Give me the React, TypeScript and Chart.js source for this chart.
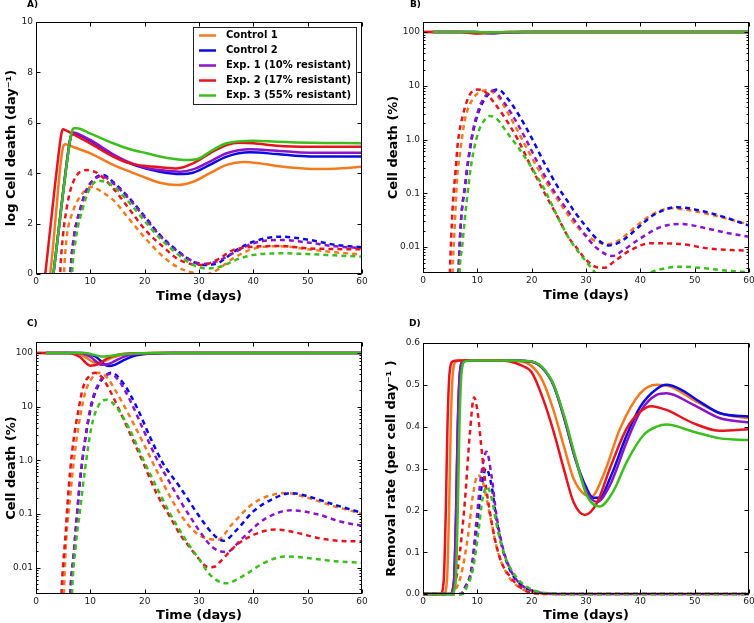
import React, { useEffect, useRef } from 'react';
import { Chart, registerables } from 'chart.js';

Chart.register(...registerables);
Chart.defaults.font.family = 'DejaVu Sans';

type Pt = [number, number];

const SERIES_LABELS = ['Control 1', 'Control 2', 'Exp. 1 (10% resistant)', 'Exp. 2 (17% resistant)', 'Exp. 3 (55% resistant)'];
const SERIES_COLORS = ['#F47A20', '#0A0AE6', '#8C14C8', '#E6141E', '#3CBE1E'];

const TIME_TICKS = [0, 10, 20, 30, 40, 50, 60];
const A_Y_TICKS = [0, 2, 4, 6, 8, 10];
const A_Y_LABELS = ['0', '2', '4', '6', '8', '10'];
const D_Y_TICKS = [0, 0.1, 0.2, 0.3, 0.4, 0.5, 0.6];
const D_Y_LABELS = ['0.0', '0.1', '0.2', '0.3', '0.4', '0.5', '0.6'];
const LOG_TICKS = [0.01, 0.1, 1, 10, 100];
const LOG_TICK_LABELS = ['0.01', '0.1', '1.0', '10', '100'];

// ---------- Panel A: log cell death (day^-1) ----------
const A_SOLID_C1: Pt[] = [[0.5,-2.2],[2.6,0],[4.6,4.5],[5.0,5.05],[5.4,5.15],[6,5.12],[7,5.03],[10,4.79],[14.2,4.33],[17.3,4.06],[20.4,3.8],[22.8,3.62],[25.9,3.53],[28.9,3.66],[32,4.0],[35.1,4.33],[38.2,4.44],[41.2,4.39],[44,4.3],[47.4,4.22],[51.7,4.17],[55,4.18],[60,4.26]];
const A_SOLID_C2: Pt[] = [[2,-2],[3.2,0],[6.0,4.95],[6.4,5.45],[6.8,5.6],[7.3,5.57],[9.9,5.3],[14.2,4.72],[17.3,4.39],[20.4,4.17],[22.8,4.06],[26.5,3.97],[28.9,4.02],[32,4.33],[35.1,4.66],[39.4,4.83],[44.3,4.76],[50.4,4.66],[60,4.66]];
const A_SOLID_E1: Pt[] = [[2,-2],[3.2,0],[6.0,4.95],[6.4,5.45],[6.8,5.62],[7.3,5.6],[9.9,5.33],[14.2,4.75],[17.3,4.42],[20.4,4.21],[22.8,4.13],[26.5,4.06],[28.9,4.15],[32,4.46],[35.1,4.79],[39.4,4.95],[44.3,4.89],[50.4,4.81],[60,4.81]];
const A_SOLID_E2: Pt[] = [[0.5,-2.2],[1.7,0],[4.3,5.0],[4.7,5.6],[5.0,5.74],[5.5,5.7],[6.9,5.54],[9.9,5.19],[14.2,4.66],[17.3,4.39],[20.4,4.28],[22.8,4.24],[25.9,4.19],[28.9,4.39],[32,4.79],[35.1,5.12],[37.4,5.21],[40,5.19],[44.3,5.09],[50.4,5.05],[55,5.05],[60,5.05]];
const A_SOLID_E3: Pt[] = [[2,-2],[3.2,0],[6.2,5.2],[6.6,5.65],[7.0,5.78],[7.5,5.78],[9.9,5.58],[14.2,5.19],[17.3,4.95],[20.4,4.79],[22.8,4.66],[25.5,4.56],[27.7,4.52],[29.6,4.55],[32,4.85],[35.1,5.19],[40,5.29],[44.3,5.25],[50.4,5.21],[60,5.19]];

const A_DASH_C1: Pt[] = [[5.0,-1],[5.15,0],[5.6,1.35],[6.9,2.54],[8.1,3.07],[9.9,3.44],[10.6,3.46],[11.2,3.38],[14.2,2.94],[17.3,2.14],[20.4,1.35],[23.4,0.69],[25.9,0.29],[28.9,0.05],[30.8,-0.02],[31.5,-0.01],[33.3,0.16],[36.3,0.62],[40,1.0],[45,1.1],[50,0.98],[55,0.86],[60,0.78]];
const A_DASH_C2: Pt[] = [[6.2,-1],[6.35,0],[6.9,1.35],[8.1,2.54],[9.3,3.33],[10.6,3.75],[12.3,3.93],[14.2,3.65],[17.3,2.98],[20.4,2.18],[22.8,1.55],[25.9,0.95],[28.9,0.49],[30.8,0.36],[33.3,0.42],[36.9,0.95],[40,1.28],[44.9,1.48],[50.4,1.35],[55.3,1.15],[60,1.06]];
const A_DASH_E1: Pt[] = [[6.2,-1],[6.35,0],[6.9,1.35],[8.1,2.54],[9.3,3.33],[10.6,3.73],[12.1,3.89],[14.2,3.6],[17.3,2.94],[20.4,2.14],[22.8,1.52],[25.9,0.92],[28.9,0.5],[30.8,0.4],[33.3,0.5],[36.9,0.9],[40,1.22],[45,1.35],[50,1.25],[55,1.1],[60,1.03]];
const A_DASH_E2: Pt[] = [[4.3,-1],[4.45,0],[5,1.6],[5.6,2.55],[6.3,3.3],[7.5,3.92],[8.7,4.1],[9.3,4.13],[10,4.1],[11.2,4.02],[14.2,3.4],[17.3,2.54],[20.4,1.68],[23.4,1.08],[25.9,0.62],[28.9,0.38],[30.8,0.36],[33.3,0.56],[36.3,0.95],[40,1.08],[45,1.11],[50,1.02],[55,0.99],[60,0.98]];
const A_DASH_E3: Pt[] = [[6.5,-1],[6.65,0],[7.3,1.35],[8.7,2.67],[9.9,3.4],[11.5,3.7],[12.3,3.68],[14.2,3.49],[17.3,2.8],[20.4,2.0],[22.8,1.42],[25.9,0.82],[28.9,0.36],[31.4,0.22],[33.9,0.29],[37.5,0.62],[41.2,0.79],[45.5,0.82],[50,0.79],[55,0.74],[60,0.69]];

// ---------- Panel B: cell death (%) ----------
const B_SOLID_C1: Pt[] = [[0,100],[8,100],[9.5,97],[10.5,95.5],[12,97],[14,99],[17,100],[60,100]];
const B_SOLID_C2: Pt[] = [[1.8,100],[10,100],[11.5,97],[13,95],[14.5,97],[16.5,99.5],[20,100],[60,100]];
const B_SOLID_E1: Pt[] = [[1.8,100],[9.5,100],[11,97],[12,95.5],[13.5,97],[15.5,99.5],[19,100],[60,100]];
const B_SOLID_E2: Pt[] = [[0,100],[7,100],[8.5,96],[9.5,94.5],[11,96],[13,99],[16,100],[60,100]];
const B_SOLID_E3: Pt[] = [[1.8,100],[10,100],[11,99],[12,98.5],[13.5,99],[16,100],[60,100]];

const B_DASH_C1: Pt[] = [[5.3,0.001],[5.45,0.0035],[5.8,0.02],[6.3,0.2],[6.8,0.55],[7.7,2.3],[9.2,5.75],[10.7,7.9],[11.8,8.3],[13.8,6.3],[15.6,3.16],[17.5,1.41],[19.3,0.63],[21.5,0.25],[24,0.1],[26,0.05],[28,0.0263],[30,0.0166],[32,0.0126],[34,0.0112],[36,0.0132],[38,0.019],[40,0.0282],[42.5,0.0417],[45.5,0.0525],[49.8,0.0468],[54.7,0.0363],[60,0.0263]];
const B_DASH_C2: Pt[] = [[6.4,0.001],[6.55,0.0035],[7,0.0316],[7.7,0.126],[8.3,0.38],[9.2,1.35],[10.4,3.63],[12,6.92],[13.8,8.5],[15.6,5.75],[17.5,3.02],[19.9,1.12],[22.4,0.355],[24.8,0.132],[26.7,0.069],[28,0.0437],[30,0.024],[32,0.0141],[34.2,0.0107],[36,0.012],[38,0.0166],[40,0.0251],[42.5,0.0398],[46.7,0.055],[50,0.05],[54.7,0.038],[60,0.0251]];
const B_DASH_E1: Pt[] = [[6.4,0.001],[6.55,0.0035],[7,0.0316],[7.7,0.132],[8.3,0.407],[9.2,1.48],[10.4,4.07],[12,7.41],[12.9,8.13],[14.4,5.75],[16.3,3.02],[18.7,1.12],[21.2,0.355],[23.6,0.132],[26.1,0.0562],[28,0.0302],[30,0.0158],[32,0.0095],[34.8,0.0068],[37,0.0089],[39.4,0.0132],[43.7,0.0234],[47.4,0.0269],[52,0.0224],[56,0.0182],[60,0.0155]];
const B_DASH_E2: Pt[] = [[4.8,0.001],[4.95,0.0035],[5.2,0.0155],[5.5,0.065],[6,0.27],[6.4,0.85],[7.4,3.0],[8.6,6.8],[10,8.5],[11.3,7.9],[13.2,4.7],[15,2.6],[17.5,0.98],[19.9,0.31],[22.4,0.1],[24.8,0.036],[26.7,0.0155],[28,0.0105],[30,0.0058],[32,0.0042],[33.5,0.0041],[35,0.0052],[38,0.0085],[41.8,0.0117],[46.7,0.0115],[52.9,0.0093],[60,0.0085]];
const B_DASH_E3: Pt[] = [[6.6,0.001],[6.75,0.0035],[7.2,0.01],[8,0.065],[8.9,0.355],[10.1,1.29],[11.3,2.29],[12.3,2.75],[13.8,2.29],[15.6,1.29],[17.5,0.72],[19.9,0.31],[22.4,0.115],[24.8,0.036],[26.7,0.0155],[28,0.0098],[30,0.0054],[31.4,0.0036],[33,0.0024],[36,0.0015],[39,0.0019],[41.8,0.0033],[44,0.0039],[47.4,0.0043],[52,0.004],[56,0.0036],[60,0.0034]];

// ---------- Panel C: cell death (%) ----------
const C_SOLID_C1: Pt[] = [[0,100],[7,100],[9,85],[11,65],[12.5,70],[14,82],[16,93],[19,99],[23,100],[60,100]];
const C_SOLID_C2: Pt[] = [[1.8,100],[8.5,100],[11,85],[13.3,57],[14.5,60],[16,72],[18,88],[21,97],[25,100],[60,100]];
const C_SOLID_E1: Pt[] = [[1.8,100],[8,100],[10,85],[12.1,60],[13.5,63],[15,75],[17,90],[20,98],[24,100],[60,100]];
const C_SOLID_E2: Pt[] = [[0,100],[6,100],[8,85],[10,58],[11.5,62],[13,78],[15,92],[18,99],[22,100],[60,100]];
const C_SOLID_E3: Pt[] = [[1.8,100],[9,100],[10.5,93],[12.1,86],[13.5,88],[15.5,94],[18,98],[22,100],[60,100]];

const C_DASH_C1: Pt[] = [[5.0,0.001],[5.15,0.0035],[5.6,0.037],[6.3,0.21],[6.9,0.87],[7.8,4.17],[9,17.4],[10.2,33],[11.5,42.7],[13,35.5],[14.8,18.6],[17.3,6.46],[19.8,2.04],[22.2,0.646],[24.7,0.209],[26.5,0.102],[28.5,0.055],[30.5,0.038],[33.5,0.0331],[36,0.063],[40,0.158],[44,0.234],[46,0.245],[50,0.2],[55,0.138],[60,0.102]];
const C_DASH_C2: Pt[] = [[6.2,0.001],[6.35,0.0035],[6.9,0.0158],[7.5,0.085],[8.1,0.4],[9,2.2],[10.2,10.5],[11.5,25],[12.7,37],[13.9,42.7],[16.1,26.9],[18.5,10],[21,2.69],[23.4,0.87],[26.5,0.316],[28.5,0.155],[30.5,0.078],[32.5,0.043],[34.5,0.0316],[37,0.0513],[40,0.112],[44,0.2],[47,0.245],[50,0.214],[55,0.148],[60,0.105]];
const C_DASH_E1: Pt[] = [[6.2,0.001],[6.35,0.0035],[6.9,0.0158],[7.5,0.087],[8.1,0.427],[9,2.34],[10.2,11.5],[11.5,26.9],[12.7,38],[13.6,40.7],[15.2,30.9],[17.3,13.2],[19.8,3.63],[22.2,1.07],[24.7,0.372],[26.5,0.178],[28.5,0.085],[30.5,0.042],[32.5,0.024],[35,0.0195],[38,0.0355],[42,0.0794],[47,0.117],[52,0.0977],[56,0.0724],[60,0.0603]];
const C_DASH_E2: Pt[] = [[4.55,0.001],[4.7,0.0035],[5,0.0117],[5.4,0.037],[5.8,0.155],[6.3,0.646],[6.9,2.34],[7.8,8.5],[8.7,23.4],[9.9,38],[10.9,42.7],[12.1,35.5],[13.6,20],[15.5,7.94],[17.3,3.16],[19.8,0.87],[22.2,0.24],[24.7,0.087],[26.5,0.0417],[28,0.0263],[30,0.0145],[31.7,0.0102],[33,0.0105],[34,0.0132],[37,0.0269],[40,0.0407],[44,0.0513],[48,0.0447],[52,0.0355],[56,0.0316],[60,0.0309]];
const C_DASH_E3: Pt[] = [[6.5,0.001],[6.65,0.0035],[7.3,0.0245],[8.1,0.117],[9,0.646],[10.2,4.17],[11.5,10.5],[13,13.5],[14.8,9.77],[17.3,3.63],[19.8,1.0],[22.2,0.316],[24.7,0.1],[26.5,0.049],[28,0.028],[30,0.0145],[32,0.0074],[35,0.0051],[38,0.0069],[42,0.0123],[46,0.0162],[50,0.0151],[55,0.0132],[60,0.0123]];

// ---------- Panel D: removal rate ----------
const D_SOLID_C1: Pt[] = [[0,0],[3.8,0],[4.4,0.03],[4.8,0.2],[5.1,0.4],[5.5,0.53],[6.1,0.556],[7,0.558],[14,0.558],[18,0.556],[20,0.545],[22,0.51],[24,0.44],[26,0.35],[27.7,0.276],[29.8,0.237],[31,0.233],[33.2,0.284],[36.3,0.396],[40,0.48],[43,0.5],[45.5,0.496],[49.8,0.464],[54.7,0.432],[60,0.42]];
const D_SOLID_C2: Pt[] = [[0,0],[5,0],[5.7,0.03],[6.1,0.2],[6.4,0.4],[6.8,0.53],[7.4,0.556],[8.5,0.558],[16,0.558],[20,0.555],[22,0.54],[24,0.5],[26,0.42],[28,0.325],[30.1,0.253],[31.3,0.23],[32.5,0.23],[34.4,0.276],[37.5,0.38],[40,0.448],[43,0.49],[44.8,0.5],[47.3,0.49],[50.9,0.46],[54.7,0.432],[60,0.424]];
const D_SOLID_E1: Pt[] = [[0,0],[5,0],[5.7,0.03],[6.1,0.2],[6.4,0.4],[6.8,0.53],[7.4,0.556],[8.5,0.558],[16,0.558],[20,0.555],[22,0.54],[24,0.5],[26,0.42],[28,0.325],[30.1,0.245],[32,0.22],[34.4,0.26],[37.5,0.364],[40,0.436],[43,0.476],[44.8,0.48],[49.8,0.452],[54.7,0.42],[60,0.41]];
const D_SOLID_E2: Pt[] = [[0,0],[3.2,0],[3.8,0.03],[4.2,0.2],[4.5,0.4],[4.9,0.53],[5.5,0.556],[6.5,0.558],[14,0.558],[16,0.556],[18,0.547],[20,0.53],[22,0.47],[24,0.39],[26,0.295],[27.7,0.22],[29.8,0.189],[32,0.217],[34.4,0.3],[37.5,0.396],[40,0.436],[42,0.449],[44.8,0.44],[49.8,0.408],[54.7,0.39],[60,0.394]];
const D_SOLID_E3: Pt[] = [[0,0],[5.3,0],[6,0.03],[6.4,0.2],[6.7,0.4],[7.1,0.53],[7.7,0.556],[9,0.558],[16,0.558],[20,0.556],[22,0.542],[24,0.502],[26,0.425],[28,0.33],[30.1,0.237],[32.5,0.209],[35,0.245],[37.5,0.316],[40.6,0.38],[43,0.4],[44.8,0.405],[49.8,0.388],[54.7,0.372],[60,0.368]];

const D_DASH_C1: Pt[] = [[0,0],[5.6,0],[6,0.01],[7,0.045],[8.3,0.14],[9.2,0.237],[10.1,0.284],[11,0.268],[12.3,0.19],[13.8,0.1],[15.6,0.045],[17.5,0.018],[19.3,0.006],[21,0.002],[24,0],[60,0]];
const D_DASH_C2: Pt[] = [[0,0],[7,0],[7.7,0.015],[8.9,0.055],[9.8,0.15],[10.7,0.25],[11.6,0.3],[12.6,0.26],[13.5,0.18],[14.7,0.105],[16.3,0.05],[18.1,0.021],[20.6,0.006],[23,0.001],[26,0],[60,0]];
const D_DASH_E1: Pt[] = [[0,0],[7,0],[7.7,0.015],[8.9,0.06],[9.8,0.17],[10.7,0.284],[11.7,0.34],[12.6,0.284],[13.5,0.19],[14.7,0.11],[16.3,0.053],[18.1,0.022],[20.6,0.006],[23,0.001],[26,0],[60,0]];
const D_DASH_E2: Pt[] = [[0,0],[5.1,0],[5.6,0.01],[6.4,0.06],[7.7,0.22],[8.6,0.38],[9.4,0.47],[10.1,0.43],[10.7,0.356],[11.3,0.284],[12.3,0.197],[13.2,0.133],[14.4,0.077],[16.3,0.037],[18.1,0.014],[19.3,0.005],[21,0.001],[24,0],[60,0]];
const D_DASH_E3: Pt[] = [[0,0],[7.3,0],[8,0.015],[9.2,0.06],[10.1,0.14],[11,0.23],[11.8,0.257],[12.6,0.23],[13.8,0.15],[15,0.093],[16.9,0.045],[19.3,0.016],[21.8,0.004],[24,0.001],[26,0],[60,0]];

// ---------- layout / panel definitions ----------
type PanelCfg = {
  letter: string;
  letterPos: [number, number];
  box: [number, number, number, number];
  padTop: number;
  padRight: number;
  yAxisW: number;
  xAxisH: number;
  yTitlePad: number;
  xTitlePad: number;
  log: boolean;
  yMin: number;
  yMax: number;
  yTicks: number[];
  yLabels: string[];
  yTitle: string;
  solid: Pt[][];
  dashed: Pt[][];
  legend: boolean;
  clipBottom: number;
};

const PANELS: PanelCfg[] = [
  {
    letter: 'A)', letterPos: [27, 5], box: [0, 0, 377, 311], padTop: 22, padRight: 15, yAxisW: 36, xAxisH: 37,
    yTitlePad: 4, xTitlePad: 7, log: false, yMin: 0, yMax: 10, yTicks: A_Y_TICKS, yLabels: A_Y_LABELS,
    yTitle: 'log Cell death (day\u207B\u00B9)',
    solid: [A_SOLID_C1, A_SOLID_C2, A_SOLID_E1, A_SOLID_E2, A_SOLID_E3],
    dashed: [A_DASH_C1, A_DASH_C2, A_DASH_E1, A_DASH_E2, A_DASH_E3], legend: true, clipBottom: 0,
  },
  {
    letter: 'B)', letterPos: [33, 5], box: [377, 0, 377, 311], padTop: 22, padRight: 5, yAxisW: 46, xAxisH: 38,
    yTitlePad: 9, xTitlePad: 8, log: true, yMin: 0.00328, yMax: 154, yTicks: LOG_TICKS, yLabels: LOG_TICK_LABELS,
    yTitle: 'Cell death (%)',
    solid: [B_SOLID_C1, B_SOLID_C2, B_SOLID_E1, B_SOLID_E2, B_SOLID_E3],
    dashed: [B_DASH_C1, B_DASH_C2, B_DASH_E1, B_DASH_E2, B_DASH_E3], legend: false, clipBottom: 0,
  },
  {
    letter: 'C)', letterPos: [27, 13], box: [0, 311, 377, 312], padTop: 31, padRight: 15, yAxisW: 36, xAxisH: 29,
    yTitlePad: 4, xTitlePad: 0, log: true, yMin: 0.00323, yMax: 160, yTicks: LOG_TICKS, yLabels: LOG_TICK_LABELS,
    yTitle: 'Cell death (%)',
    solid: [C_SOLID_C1, C_SOLID_C2, C_SOLID_E1, C_SOLID_E2, C_SOLID_E3],
    dashed: [C_DASH_C1, C_DASH_C2, C_DASH_E1, C_DASH_E2, C_DASH_E3], legend: false, clipBottom: 0,
  },
  {
    letter: 'D)', letterPos: [32, 12.5], box: [377, 311, 377, 312], padTop: 32, padRight: 5, yAxisW: 46, xAxisH: 29,
    yTitlePad: 7, xTitlePad: 0, log: false, yMin: 0, yMax: 0.6, yTicks: D_Y_TICKS, yLabels: D_Y_LABELS,
    yTitle: 'Removal rate (per cell day\u207B\u00B9 )',
    solid: [D_SOLID_C1, D_SOLID_C2, D_SOLID_E1, D_SOLID_E2, D_SOLID_E3],
    dashed: [D_DASH_C1, D_DASH_C2, D_DASH_E1, D_DASH_E2, D_DASH_E3], legend: false, clipBottom: 2,
  },
];

function logMinor(min: number, max: number): number[] {
  const out: number[] = [];
  for (let d = Math.floor(Math.log10(min)); d <= Math.ceil(Math.log10(max)); d++) {
    for (let m = 2; m <= 9; m++) {
      const v = m * Math.pow(10, d);
      if (v > min && v < max) out.push(v);
    }
  }
  return out;
}

const framePlugin = {
  id: 'frameTicks',
  afterDraw(chart: any, _args: any, opts: any) {
    const { ctx, chartArea: ca } = chart;
    const xs = chart.scales.x;
    const ys = chart.scales.y;
    ctx.save();
    ctx.strokeStyle = '#000';
    ctx.lineWidth = 1;
    ctx.beginPath();
    const L = ca.left + 0.5, R = ca.right - 0.5, T = ca.top + 0.5, B = ca.bottom - 0.5;
    for (const v of opts.xMajor) {
      const px = Math.round(xs.getPixelForValue(v)) + 0.5;
      ctx.moveTo(px, B); ctx.lineTo(px, B - 4);
      ctx.moveTo(px, T); ctx.lineTo(px, T + 4);
    }
    const yTick = (v: number, len: number) => {
      const py = Math.round(ys.getPixelForValue(v)) + 0.5;
      ctx.moveTo(L, py); ctx.lineTo(L + len, py);
      ctx.moveTo(R, py); ctx.lineTo(R - len, py);
    };
    for (const v of opts.yMajor) yTick(v, 4);
    for (const v of opts.yMinor) yTick(v, 2);
    ctx.stroke();
    ctx.strokeRect(L, T, R - L, B - T);
    ctx.restore();
  },
};

const decorPlugin = {
  id: 'decor',
  afterDraw(chart: any, _args: any, opts: any) {
    const ctx = chart.ctx;
    ctx.save();
    ctx.fillStyle = '#000';
    ctx.font = 'bold 9px "DejaVu Sans"';
    ctx.textAlign = 'left';
    ctx.textBaseline = 'middle';
    ctx.fillText(opts.letter, opts.letterPos[0], opts.letterPos[1]);
    if (opts.legend) {
      const x0 = 193, y0 = 27, x1 = 357, y1 = 105;
      ctx.fillStyle = '#fff';
      ctx.fillRect(x0, y0, x1 - x0, y1 - y0);
      ctx.strokeStyle = '#222';
      ctx.lineWidth = 1;
      ctx.strokeRect(x0 + 0.5, y0 + 0.5, x1 - x0 - 1, y1 - y0 - 1);
      ctx.font = 'bold 10px "DejaVu Sans"';
      SERIES_LABELS.forEach((lab, i) => {
        const cy = 35.5 + i * 15;
        ctx.strokeStyle = SERIES_COLORS[i];
        ctx.lineWidth = 2.5;
        ctx.beginPath();
        ctx.moveTo(199, cy);
        ctx.lineTo(216, cy);
        ctx.stroke();
        ctx.fillStyle = '#000';
        ctx.fillText(lab, 226, cy);
      });
    }
    ctx.restore();
  },
};

function buildConfig(cfg: PanelCfg): any {
  const clip = { left: 0, top: 0, right: 0, bottom: cfg.clipBottom };
  const drawOrder: any[] = [];
  for (let i = 0; i < 5; i++) {
    drawOrder.push({
      label: SERIES_LABELS[i],
      data: cfg.solid[i].map(([x, y]) => ({ x, y })),
      borderColor: SERIES_COLORS[i],
      borderWidth: 2.5,
      pointRadius: 0,
      fill: false,
      cubicInterpolationMode: 'monotone',
      clip,
    });
    drawOrder.push({
      label: SERIES_LABELS[i] + ' (dashed)',
      data: cfg.dashed[i].map(([x, y]) => ({ x, y })),
      borderColor: SERIES_COLORS[i],
      borderWidth: 2.5,
      borderDash: [5, 4],
      pointRadius: 0,
      fill: false,
      cubicInterpolationMode: 'monotone',
      clip,
    });
  }
  const datasets = drawOrder.reverse();
  const yMinor = cfg.log ? logMinor(cfg.yMin, cfg.yMax) : [];
  return {
    type: 'line',
    data: { datasets },
    plugins: [framePlugin, decorPlugin],
    options: {
      animation: false,
      responsive: false,
      devicePixelRatio: 1,
      layout: { padding: { left: 0, top: cfg.padTop, right: cfg.padRight, bottom: 0 } },
      plugins: {
        legend: { display: false },
        tooltip: { enabled: false },
        frameTicks: { xMajor: TIME_TICKS, yMajor: cfg.yTicks, yMinor },
        decor: { letter: cfg.letter, letterPos: cfg.letterPos, legend: cfg.legend },
      },
      scales: {
        x: {
          type: 'linear',
          min: 0,
          max: 60,
          afterBuildTicks: (s: any) => { s.ticks = TIME_TICKS.map((v) => ({ value: v })); },
          afterFit: (s: any) => { s.height = cfg.xAxisH; s.paddingLeft = 0; s.paddingRight = 0; },
          ticks: { font: { size: 9 }, color: '#222', padding: 2, maxRotation: 0, autoSkip: false, callback: (v: any) => String(v) },
          grid: { display: false, drawTicks: false },
          border: { display: false },
          title: { display: true, text: 'Time (days)', color: '#000', font: { size: 13, weight: 'bold' }, padding: { top: 0, bottom: cfg.xTitlePad } },
        },
        y: {
          type: cfg.log ? 'logarithmic' : 'linear',
          min: cfg.yMin,
          max: cfg.yMax,
          afterBuildTicks: (s: any) => { s.ticks = cfg.yTicks.map((v) => ({ value: v })); },
          afterFit: (s: any) => { s.width = cfg.yAxisW; s.paddingTop = 0; s.paddingBottom = 0; },
          ticks: { font: { size: 9 }, color: '#222', padding: 3, autoSkip: false, callback: (_v: any, i: number) => cfg.yLabels[i] },
          grid: { display: false, drawTicks: false },
          border: { display: false },
          title: { display: true, text: cfg.yTitle, color: '#000', font: { size: 13, weight: 'bold' }, padding: { top: cfg.yTitlePad, bottom: 0 } },
        },
      },
    },
  };
}

function Panel({ cfg }: { cfg: PanelCfg }) {
  const ref = useRef<HTMLCanvasElement>(null);
  useEffect(() => {
    const chart = new Chart(ref.current as HTMLCanvasElement, buildConfig(cfg));
    return () => chart.destroy();
  }, [cfg]);
  const [l, t, w, h] = cfg.box;
  return (
    <canvas
      ref={ref}
      width={w}
      height={h}
      style={{ position: 'absolute', left: l, top: t, width: w, height: h }}
    />
  );
}

export default function App() {
  return (
    <div style={{ position: 'absolute', left: 0, top: 0, width: 754, height: 623, background: '#fff', overflow: 'hidden' }}>
      {PANELS.map((p) => (
        <Panel key={p.letter} cfg={p} />
      ))}
    </div>
  );
}
